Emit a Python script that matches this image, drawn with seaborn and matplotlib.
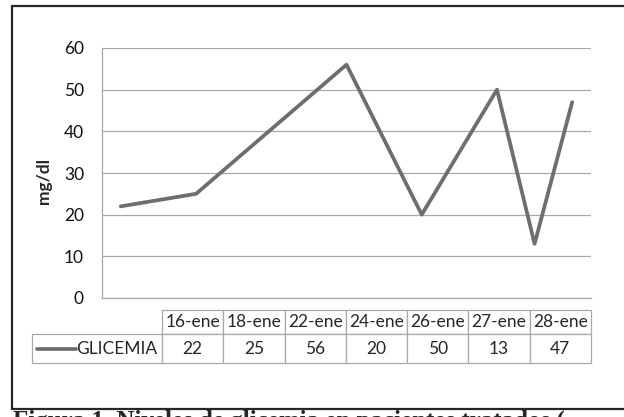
import matplotlib
matplotlib.use("Agg")
import matplotlib.pyplot as plt
import pandas as pd
import seaborn as sns
from matplotlib.lines import Line2D
from matplotlib.table import Table

# data
dates = ["2013-01-16", "2013-01-18", "2013-01-22", "2013-01-24",
         "2013-01-26", "2013-01-27", "2013-01-28"]
date_labels = ["16-ene", "18-ene", "22-ene", "24-ene", "26-ene", "27-ene", "28-ene"]
glicemia = [22, 25, 56, 20, 50, 13, 47]
series_name = "GLICEMIA"
y_ticks = [0, 10, 20, 30, 40, 50, 60]
y_label = "mg/dl"
caption = "Figura 1. Niveles de glicemia en pacientes tratados ("

LINE_COLOR = "#6e6e6e"
GRID_COLOR = "#a8a8a8"
FRAME_COLOR = "#262626"
FS = 12.5

sns.set_style("white")
plt.rcParams["font.family"] = ["Lato", "DejaVu Sans"]

W, H = 624, 417
df = pd.DataFrame({"fecha": pd.to_datetime(dates), "valor": glicemia})

fig = plt.figure(figsize=(W / 100, H / 100), dpi=100)
ax = fig.add_axes([102 / W, 1 - 298 / H, 489 / W, 250 / H])

sns.lineplot(data=df, x="fecha", y="valor", ax=ax, color=LINE_COLOR, lw=2.7)

half_day = pd.Timedelta(hours=12)
ax.set_xlim(df.fecha.min() - half_day, df.fecha.max() + half_day)
ax.set_ylim(0, 60)
ax.set_yticks(y_ticks)
ax.set_xticks([])
ax.set_xlabel("")
ax.set_ylabel(y_label, fontsize=FS, fontweight="bold")
ax.yaxis.set_label_coords(-50 / 489, 0.47)
ax.tick_params(axis="y", length=0, pad=13, labelsize=FS, labelcolor="#111111")
ax.grid(axis="y", color=GRID_COLOR, lw=0.9)
ax.set_axisbelow(True)
for side in ["top", "right"]:
    ax.spines[side].set_visible(False)
for side in ["left", "bottom"]:
    ax.spines[side].set_color(GRID_COLOR)
    ax.spines[side].set_linewidth(0.9)

# data table under the plot (Excel style)
tbl = Table(ax, bbox=[(32 - 102) / 489, (298 - 363) / 250, (591 - 32) / 489, 53 / 250])
label_w, col_w = 130, 61.3
head_h, row_h = 24, 29
hc = tbl.add_cell(0, 0, label_w, head_h, text="", loc="center")
hc.visible_edges = ""
for i, lab in enumerate(date_labels):
    tbl.add_cell(0, i + 1, col_w, head_h, text=lab, loc="center")
lc = tbl.add_cell(1, 0, label_w, row_h, text=series_name, loc="right")
lc.PAD = 0.035
for i, v in enumerate(glicemia):
    tbl.add_cell(1, i + 1, col_w, row_h, text=str(v), loc="center")
tbl.auto_set_font_size(False)
tbl.set_fontsize(FS)
for cell in tbl.get_celld().values():
    cell.set_edgecolor(GRID_COLOR)
    cell.set_linewidth(0.9)
ax.add_table(tbl)

# legend key inside the label cell
ax.add_line(Line2D([(37 - 102) / 489, (76 - 102) / 489], [(298 - 349) / 250] * 2,
                   transform=ax.transAxes, color=LINE_COLOR, lw=2.7, clip_on=False))

# chart frame
for xs, ys in [([12, 12], [6, 409]), ([12, W], [6, 6]), ([12, W], [409, 409])]:
    fig.add_artist(Line2D([x / W for x in xs], [1 - y / H for y in ys],
                          transform=fig.transFigure, color=FRAME_COLOR, lw=1.6))

# caption, cut by the lower edge as in the source page
fig.text(13 / W, 1 - 410 / H, caption, ha="left", va="top",
         family="Liberation Serif", fontweight="bold", fontsize=18)

fig.savefig("out.png", dpi=100)
